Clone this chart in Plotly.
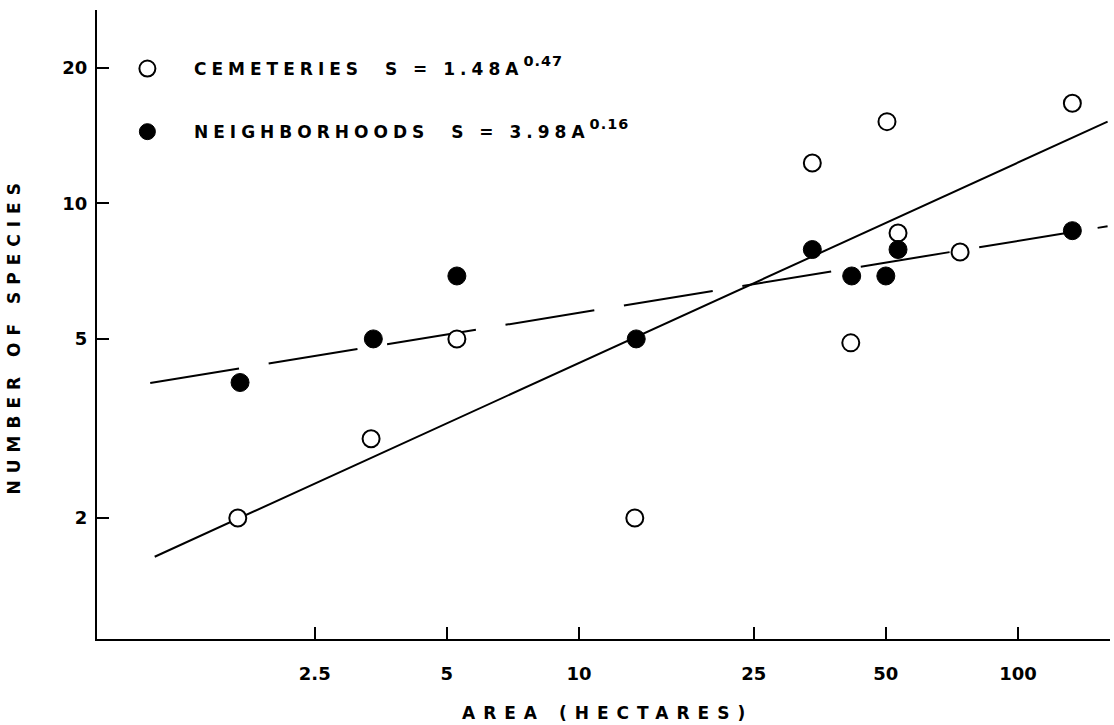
import plotly.graph_objects as go

# Cemeteries (open circles): area (ha), number of species
cem_area = [1.67, 3.36, 5.27, 13.4, 34.0, 41.6, 50.3, 53.3, 73.8, 133.0]
cem_species = [2.0, 3.0, 5.0, 2.0, 12.3, 4.9, 15.2, 8.6, 7.8, 16.7]

# Neighborhoods (filled circles)
nbh_area = [1.69, 3.4, 5.27, 13.5, 34.0, 41.8, 50.0, 53.3, 133.0]
nbh_species = [4.0, 5.0, 6.9, 5.0, 7.9, 6.9, 6.9, 7.9, 8.7]

# Fitted lines (endpoints)
cem_fit_area = [1.08, 160.0]
cem_fit_species = [1.64, 15.2]
nbh_fit_area = [1.055, 160.0]
nbh_fit_species = [3.99, 8.9]

x_ticks = [2.5, 5, 10, 25, 50, 100]
x_labels = ["2.5", "5", "10", "25", "50", "100"]
y_ticks = [2, 5, 10, 20]
y_labels = ["2", "5", "10", "20"]

cem_label = "CEMETERIES\u00a0\u00a0S = 1.48A<sup>0.47</sup>"
nbh_label = "NEIGHBORHOODS\u00a0\u00a0S = 3.98A<sup>0.16</sup>"

FONT = "DejaVu Sans"

fig = go.Figure()

fig.add_trace(go.Scatter(
    x=cem_fit_area, y=cem_fit_species, mode="lines",
    line=dict(color="black", width=2), showlegend=False, hoverinfo="skip"))
fig.add_trace(go.Scatter(
    x=nbh_fit_area, y=nbh_fit_species, mode="lines",
    line=dict(color="black", width=2, dash="90px,30px"), showlegend=False, hoverinfo="skip"))

fig.add_trace(go.Scatter(
    x=cem_area, y=cem_species, mode="markers", name="\u00a0",
    legendgroup="c",
    marker=dict(symbol="circle", size=17, color="white", line=dict(color="black", width=2))))
fig.add_trace(go.Scatter(
    x=nbh_area, y=nbh_species, mode="markers", name="\u00a0",
    legendgroup="n",
    marker=dict(symbol="circle", size=18, color="black", line=dict(color="black", width=1))))

fig.update_layout(
    width=1114, height=725,
    margin=dict(l=97, r=4, t=10, b=86, autoexpand=False),
    paper_bgcolor="white", plot_bgcolor="white",
    font=dict(family=FONT, size=17, color="black", weight="bold"),
    showlegend=True,
    legend=dict(x=0.030, y=0.9348, xanchor="left", yanchor="top",
                bgcolor="rgba(0,0,0,0)", tracegroupgap=38,
                font=dict(family=FONT, size=17, color="black", weight="bold")),
    xaxis=dict(
        type="log", range=[-0.098, 2.2096], automargin=False,
        tickvals=x_ticks, ticktext=x_labels,
        ticks="inside", ticklen=12, tickwidth=2, tickcolor="black",
        showline=True, linecolor="black", linewidth=2,
        showgrid=False, zeroline=False, ticklabelstandoff=17,
        tickfont=dict(family=FONT, size=18, weight="bold"),
    ),
    yaxis=dict(
        type="log", range=[0.032, 1.430], automargin=False,
        tickvals=y_ticks, ticktext=y_labels,
        ticks="inside", ticklen=12, tickwidth=2, tickcolor="black",
        showline=True, linecolor="black", linewidth=2,
        showgrid=False, zeroline=False, ticklabelstandoff=4,
        tickfont=dict(family=FONT, size=18, weight="bold"),
    ),
    annotations=[
        dict(text="AREA (HECTARES)", xref="paper", yref="paper",
             x=0.5035, y=0, yshift=-74, xanchor="center", yanchor="middle",
             showarrow=False, font=dict(family=FONT, size=17, weight="bold")),
        dict(text="NUMBER OF SPECIES", xref="paper", yref="paper",
             x=0, y=0.4817, xshift=-83, xanchor="center", yanchor="middle",
             textangle=-90, showarrow=False,
             font=dict(family=FONT, size=17, weight="bold")),
        dict(text=cem_label, xref="paper", yref="paper",
             x=0.0938, y=0.9078, xanchor="left", yanchor="middle", align="left",
             showarrow=False, font=dict(family=FONT, size=17, weight="bold")),
        dict(text=nbh_label, xref="paper", yref="paper",
             x=0.0938, y=0.8076, xanchor="left", yanchor="middle", align="left",
             showarrow=False, font=dict(family=FONT, size=17, weight="bold")),
    ],
)

post = """
document.body.style.margin = '0';
var s = document.createElement('style');
s.textContent = 'body{margin:0}' +
  '.annotation[data-index="0"] text{letter-spacing:8px}' +
  '.annotation[data-index="1"] text{letter-spacing:7px}' +
  '.annotation[data-index="2"] text{letter-spacing:5px}' +
  '.annotation[data-index="3"] text{letter-spacing:5px}' +
  '.annotation text tspan[style*="70%"]{letter-spacing:1px !important; font-size:85% !important}';
document.head.appendChild(s);
"""

fig.write_html("out.html", post_script=post, config={"displayModeBar": False})
